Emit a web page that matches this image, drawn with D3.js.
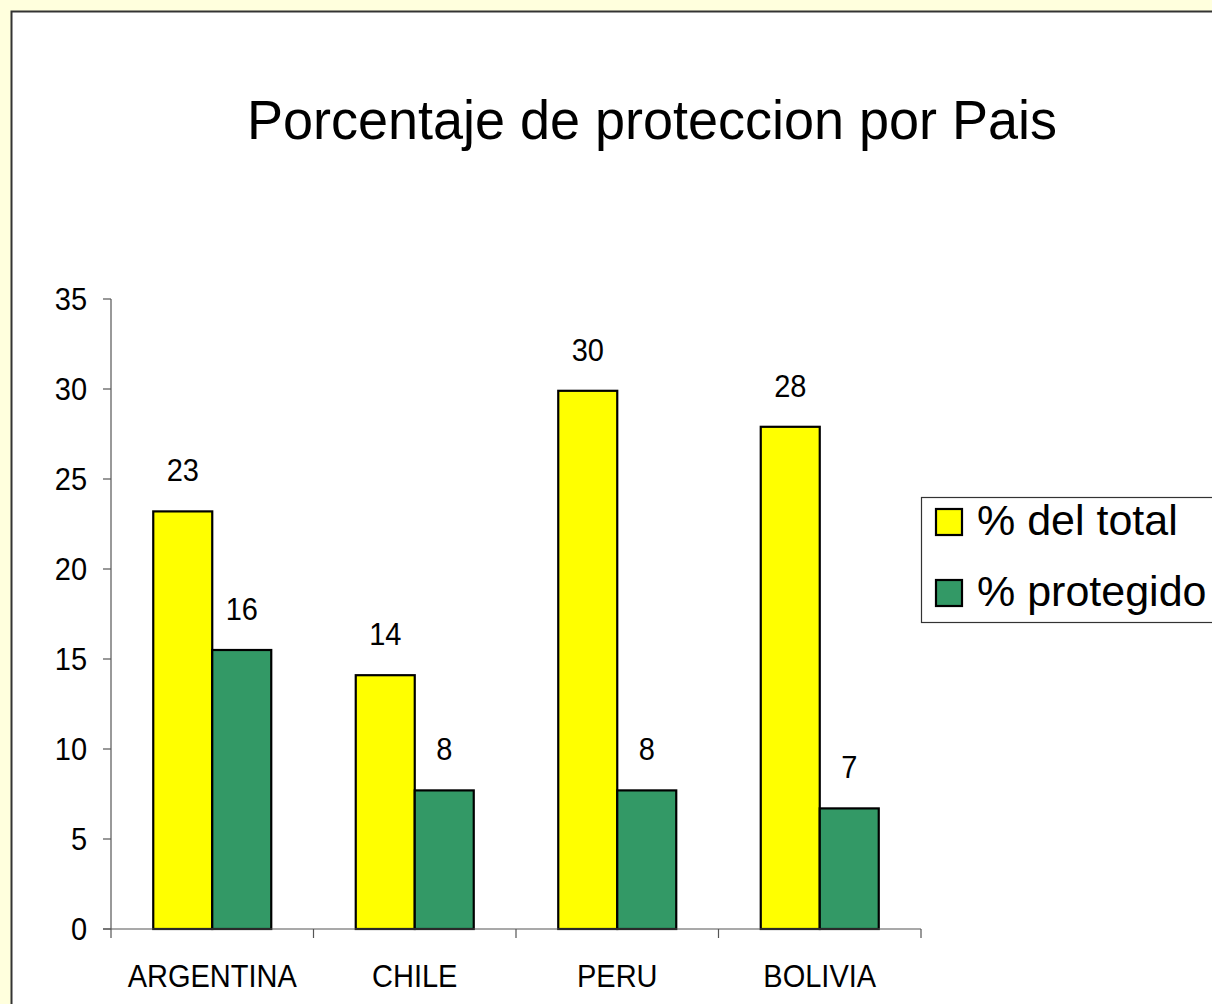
<!DOCTYPE html>
<html>
<head>
<meta charset="utf-8">
<script src="https://cdn.jsdelivr.net/npm/d3@7"></script>
<style>
  html, body { margin: 0; padding: 0; background: #FFFFDD; }
  svg { display: block; }
  text { font-family: "Liberation Sans", Arial, sans-serif; fill: #000; }
</style>
</head>
<body>
<svg id="chart" width="1212" height="1004"></svg>
<script>
const categories = ["ARGENTINA", "CHILE", "PERU", "BOLIVIA"];
const seriesNames = ["% del total", "% protegido"];
const totalValues = [23.2, 14.1, 29.9, 27.9];
const protectedValues = [15.5, 7.7, 7.7, 6.7];
const yTicks = [0, 5, 10, 15, 20, 25, 30, 35];
const colors = ["#FFFF00", "#339966"];
const title = "Porcentaje de proteccion por Pais";

const svg = d3.select("#chart");
const W = 1212, H = 1004;
const stretch = 1.1;

// outer page background + chart area
svg.append("rect").attr("x", 0).attr("y", 0).attr("width", W).attr("height", H).attr("fill", "#FFFFDD");
svg.append("rect").attr("x", 12).attr("y", 12).attr("width", W).attr("height", H).attr("fill", "#FFFFFF");
svg.append("path").attr("d", `M11.5,${H} V11.5 H${W}`).attr("fill", "none").attr("stroke", "#333333").attr("stroke-width", 2);

// title
svg.append("text").attr("transform", `translate(652,139) scale(1,1.03)`).attr("text-anchor", "middle")
  .style("font-size", "54px").text(title);

const plot = { left: 111, right: 921, top: 299, bottom: 929 };

const y = d3.scaleLinear().domain([0, 35]).range([plot.bottom, plot.top]);
const x0 = d3.scaleBand().domain(categories).range([plot.left, plot.right]).padding(0);
const groupW = 118;
const x1 = d3.scaleBand().domain(seriesNames).range([0, groupW]).padding(0);
const offset = (x0.bandwidth() - groupW) / 2;

const data = categories.map((c, i) => ({ cat: c, vals: [totalValues[i], protectedValues[i]] }));

// bars
const groups = svg.append("g").selectAll("g").data(data).join("g")
  .attr("transform", d => `translate(${x0(d.cat) + offset},0)`);

groups.selectAll("rect").data(d => d.vals.map((v, j) => ({ v, s: seriesNames[j], j })))
  .join("rect")
  .attr("x", d => x1(d.s))
  .attr("y", d => y(d.v))
  .attr("width", x1.bandwidth())
  .attr("height", d => y(0) - y(d.v))
  .attr("fill", d => colors[d.j])
  .attr("stroke", "#000")
  .attr("stroke-width", 2.2);

groups.selectAll("text.lbl").data(d => d.vals.map((v, j) => ({ v, s: seriesNames[j], j })))
  .join("text").attr("class", "lbl")
  .attr("transform", d => `translate(${x1(d.s) + x1.bandwidth() / 2},${y(d.v) - 30}) scale(1,${stretch})`)
  .attr("text-anchor", "middle")
  .style("font-size", "29px")
  .text(d => Math.round(d.v));

// y axis
const yAxis = d3.axisLeft(y).tickValues(yTicks).tickSize(8).tickPadding(16).tickFormat(d3.format("d"));
const gy = svg.append("g").attr("transform", `translate(${plot.left},0)`).call(yAxis);
gy.select(".domain").attr("stroke", "#555").attr("stroke-width", 1.2).attr("d", `M0,${plot.top}V${plot.bottom}`);
gy.selectAll(".tick line").attr("stroke", "#555").attr("stroke-width", 1.2);
gy.selectAll(".tick text").style("font-size", "29px").attr("font-family", "Liberation Sans, Arial, sans-serif")
  .attr("fill", "#000").attr("transform", `scale(1,${stretch})`).attr("y", 0).attr("dy", "0.34em");
gy.selectAll(".tick").attr("transform", d => `translate(0,${y(d)})`);

// x axis
const xTickPos = d3.range(categories.length + 1).map(i => plot.left + i * x0.step());
const gx = svg.append("g");
gx.append("line").attr("x1", plot.left - 8).attr("x2", plot.right).attr("y1", plot.bottom).attr("y2", plot.bottom)
  .attr("stroke", "#555").attr("stroke-width", 1.2);
gx.selectAll("line.t").data(xTickPos).join("line").attr("class", "t")
  .attr("x1", d => d).attr("x2", d => d).attr("y1", plot.bottom).attr("y2", plot.bottom + 9)
  .attr("stroke", "#555").attr("stroke-width", 1.2);
gx.selectAll("text").data(categories).join("text")
  .attr("transform", d => `translate(${x0(d) + x0.bandwidth() / 2},987) scale(1,${stretch})`)
  .attr("text-anchor", "middle")
  .style("font-size", "29px")
  .text(d => d);

// legend
const leg = svg.append("g");
leg.append("rect").attr("x", 921.5).attr("y", 497.5).attr("width", 400).attr("height", 125)
  .attr("fill", "#fff").attr("stroke", "#333").attr("stroke-width", 1.2);
const legItems = leg.selectAll("g").data(seriesNames).join("g")
  .attr("transform", (d, i) => `translate(0,${i * 71})`);
legItems.append("rect").attr("x", 936).attr("y", 509).attr("width", 26).attr("height", 26)
  .attr("fill", (d, i) => colors[i]).attr("stroke", "#000").attr("stroke-width", 2.2);
legItems.append("text").attr("x", 977).attr("y", 535).style("font-size", "43px").text(d => d);
</script>
</body>
</html>
